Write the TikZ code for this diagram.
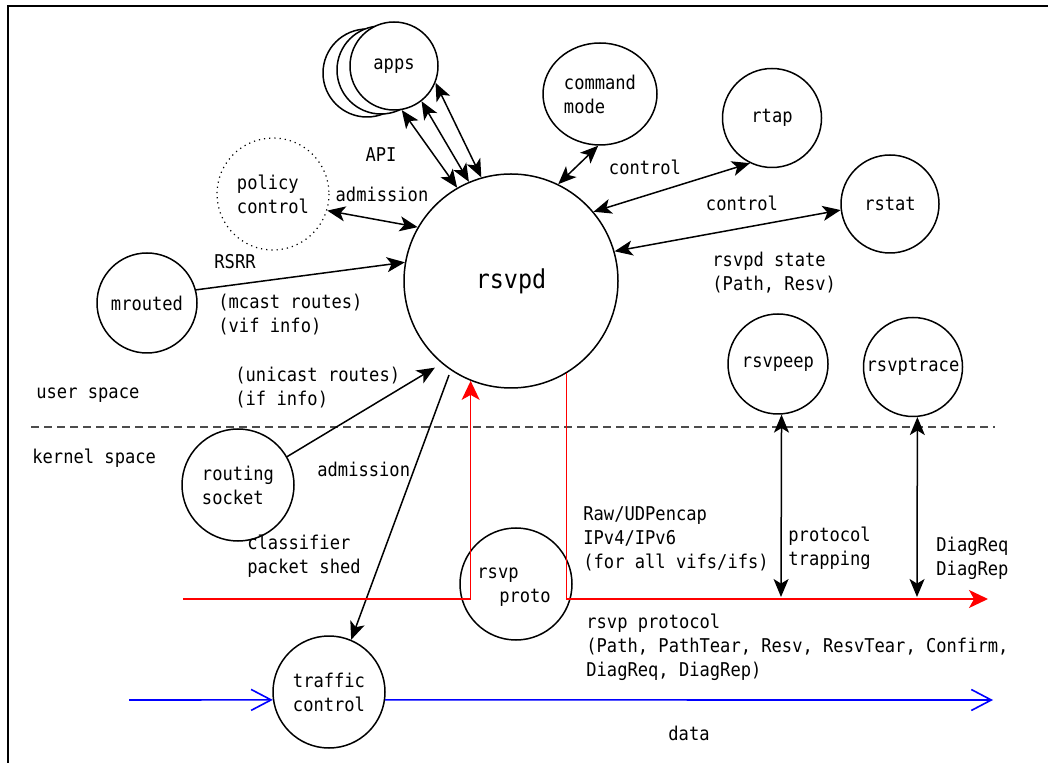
\documentclass[tikz,border=0pt]{standalone}
\usepackage{fontspec}
\setmainfont{DejaVu Sans Mono}[FakeStretch=0.9]
\usetikzlibrary{arrows.meta,shapes.geometric}

\begin{document}
\begin{tikzpicture}[x=0.5pt,y=-0.5pt,
  font=\fontsize{9.5pt}{12pt}\selectfont,
  >={Stealth[length=9pt,width=7.5pt,inset=2.3pt]},
  proc/.style={circle,draw,line width=0.75pt,inner sep=0pt,align=center,fill=white},
  link/.style={line width=0.75pt},
  txt/.style={inner sep=0pt,align=left,anchor=west},
  ctxt/.style={inner sep=0pt,align=center},
  redflow/.style={draw=red,line width=0.75pt,-{Stealth[length=9.5pt,width=9pt,inset=2.5pt]}},
  dataflow/.style={draw=blue,line width=0.8pt,-{Straight Barb[length=10pt,width=10.5pt]}},
]
\useasboundingbox (0,0) rectangle (1048,763);

% outer frame (top and left edges)
\draw[line width=1.4pt] (8,763) -- (8,6) -- (1048,6);

% user / kernel boundary
\draw[dash pattern=on 4pt off 2.5pt,draw=black!70,line width=0.7pt] (31,427) -- (995,427);

% processes
\node[proc,minimum size=44pt] (appsC) at (367,73) {};
\node[proc,minimum size=44pt] (appsB) at (381,70) {};
\node[proc,minimum size=44pt] (apps) at (394,66) {apps};
\node[ellipse,draw,line width=0.75pt,inner sep=0pt,align=left,fill=white,
      minimum width=57pt,minimum height=51pt] (cmd) at (600,94) {command\\mode};
\node[proc,minimum size=49.5pt] (rtap) at (772,118) {rtap};
\node[proc,minimum size=49pt] (rstat) at (890,204) {rstat};
\node[proc,draw=none,minimum size=56pt,align=left] (policy) at (273,194) {policy\\control};
\draw[dotted,line width=0.6pt] (policy) circle[radius=56];
\node[proc,minimum size=107pt,font=\fontsize{13pt}{15pt}\selectfont] (rsvpd) at (511,281) {rsvpd};
\node[proc,minimum size=50pt] (mrouted) at (147,303) {mrouted};
\node[proc,minimum size=56pt,align=left] (routing) at (238,485) {routing\\socket};
\node[proc,minimum size=56pt] (proto) at (516,584) {};
\node[inner sep=0pt] (protoA) at ([xshift=-9pt,yshift=4.5pt]proto.center) {rsvp};
\node[inner sep=0pt] (protoB) at ([xshift=4.5pt,yshift=-7pt]proto.center) {proto};
\node[proc,minimum size=50pt] (rsvpeep) at (778,364) {rsvpeep};
\node[proc,minimum size=49.5pt] (rsvptrace) at (913,367) {rsvptrace};
\node[proc,minimum size=56pt] (traffic) at (329,692) {traffic\\control};

% free ends
\coordinate (redIn) at (183,599);
\coordinate (redOut) at (988,599);
\coordinate (trapA) at (781,597);
\coordinate (trapB) at (917,597);
\coordinate (dataIn) at (129,700);
\coordinate (dataOut) at (993,700);

% control connections
\draw[link,<->] (apps.-80) -- (rsvpd.120);
\draw[link,<->] (apps.-52) -- (rsvpd.113);
\draw[link,<->] (apps.-22) -- (rsvpd.106);
\draw[link,<->] (policy.-17) -- (rsvpd.150);
\draw[link,->] (mrouted.15) -- (rsvpd.170);
\draw[link,->,shorten >=4pt] (routing.30) -- (rsvpd.-130);
\draw[link,->,shorten <=2.5pt] (rsvpd.-124) -- (traffic.67);
\draw[link,<->] (cmd.-92) -- (rsvpd.64);
\draw[link,<->] (rtap.-116) -- (rsvpd.40);
\draw[link,<->] (rstat.-173) -- (rsvpd.16);
\draw[link,<->] (rsvpeep.-86) -- (trapA);
\draw[link,<->] (rsvptrace.-85) -- (trapB);

% rsvp packet flow
\draw[redflow] (redIn) -| (rsvpd.-112);
\draw[redflow] (rsvpd.-59) |- (redOut);

% data flow
\draw[dataflow] (dataIn) -- (traffic.-172);
\draw[dataflow] (traffic.-8) -- (dataOut);

% labels
\node[ctxt] (lAPI) at (381,155) {API};
\node[ctxt] (lAdm1) at (382,194) {admission};
\node[ctxt] (lRSRR) at (235,262) {RSRR};
\node[txt] (lMcast) at (218,315) {(mcast routes)\\(vif info)};
\node[ctxt] (lCtl1) at (645,167) {control};
\node[ctxt] (lCtl2) at (742,203) {control};
\node[txt] (lState) at (712,273) {rsvpd state\\(Path, Resv)};
\node[txt] (lUser) at (36,395) {user space};
\node[txt] (lKernel) at (32,458) {kernel space};
\node[txt] (lUni) at (235,388) {(unicast routes)\\(if info)};
\node[txt] (lAdm2) at (317,469) {admission};
\node[txt] (lCls) at (247,556) {classifier\\packet shed};
\node[txt] (lRaw) at (583,539) {Raw/UDPencap\\IPv4/IPv6\\(for all vifs/ifs)};
\node[txt] (lTrap) at (788,548) {protocol\\trapping};
\node[txt] (lDiag) at (936,558) {DiagReq\\DiagRep};
\node[txt] (lProto) at (586,647) {rsvp protocol\\(Path, PathTear, Resv, ResvTear, Confirm,\\DiagReq, DiagRep)};
\node[ctxt] (lData) at (689,733) {data};
\end{tikzpicture}
\end{document}
